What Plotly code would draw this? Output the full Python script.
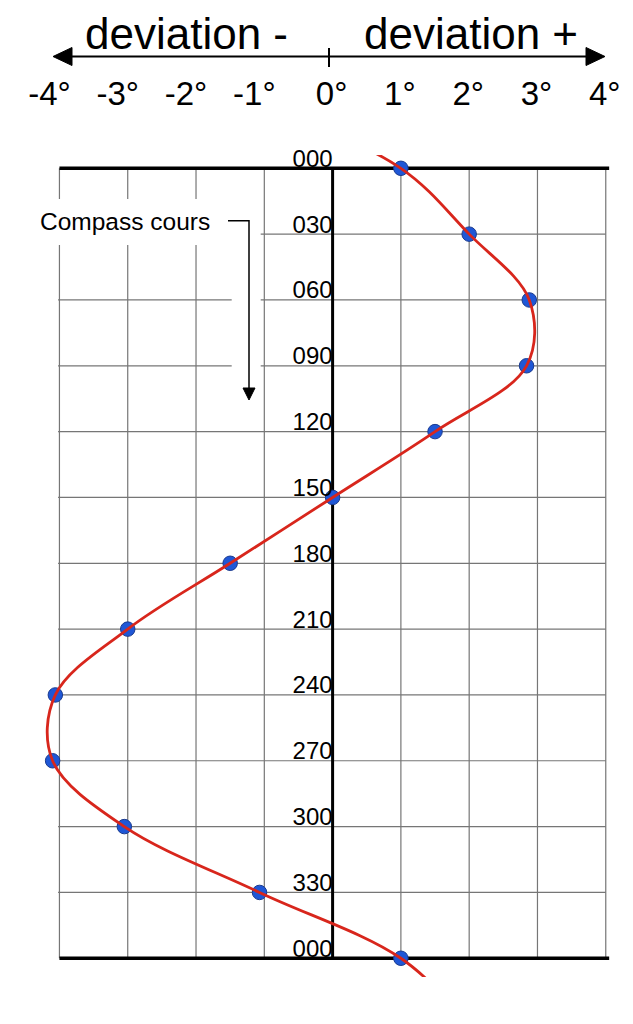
import plotly.graph_objects as go

# ---------------- data ----------------
headings = [0, 30, 60, 90, 120, 150, 180, 210, 240, 270, 300, 330, 360]
deviation = [1.0, 2.0, 2.88, 2.84, 1.5, 0.0, -1.5, -3.0, -4.06, -4.10, -3.05, -1.07, 1.0]
heading_labels = ["000", "030", "060", "090", "120", "150", "180",
                  "210", "240", "270", "300", "330", "000"]
dev_ticks_neg = [-4, -3, -2, -1]
dev_labels_neg = ["-4°", "-3°", "-2°", "-1°"]
dev_ticks_pos = [0, 1, 2, 3, 4]
dev_labels_pos = ["0°", "1°", "2°", "3°", "4°"]
grid_dev = [-4, -3, -2, -1, 1, 2, 3, 4]

# periodic continuation so the smooth curve runs past 000 at both ends
curve_h = [headings[-2] - 360] + headings + [headings[1] + 360]
curve_d = [deviation[-2]] + deviation + [deviation[1]]

# ---------------- geometry ----------------
W, H = 633, 1024
X0, SX = 332.6, 68.29          # px of 0 deg, px per deviation degree
Y0, SY = 168.3, 65.83 / 30.0   # px of heading 000, px per heading degree
TOP_PX, BOT_PX = 155, 977      # plot area (curve clipping) in px


def xd(px):
    return (px - X0) / SX


def yd(px):
    return (px - Y0) / SY


def xp(px):
    return px / W


def yp(px):
    return 1 - px / H


FONT = "Liberation Sans, Arial, Helvetica, sans-serif"
GRID = "#767676"

shapes = []
# thin grid
for d in grid_dev:
    shapes.append(dict(type="line", xref="x", yref="y", x0=d, x1=d, y0=0, y1=360,
                       line=dict(color=GRID, width=1.2), layer="below"))
for h in headings[1:-1]:
    shapes.append(dict(type="line", xref="x", yref="y", x0=-4.02, x1=4.0, y0=h, y1=h,
                       line=dict(color=GRID, width=1.2), layer="below"))
# white knock-outs behind the "Compass cours" label and its arrow
shapes.append(dict(type="rect", xref="x", yref="y", x0=xd(0), x1=xd(260.7),
                   y0=yd(199), y1=yd(245), fillcolor="white", line=dict(width=0), layer="below"))
shapes.append(dict(type="rect", xref="x", yref="y", x0=xd(231.7), x1=xd(260.7),
                   y0=yd(245), y1=yd(405), fillcolor="white", line=dict(width=0), layer="below"))
# zero line and the 000 lines
shapes.append(dict(type="line", xref="x", yref="y", x0=0, x1=0, y0=0, y1=360,
                   line=dict(color="black", width=3), layer="below"))
for h in (0, 360):
    shapes.append(dict(type="line", xref="x", yref="y", x0=-4.0, x1=4.05, y0=h, y1=h,
                       line=dict(color="black", width=3.5), layer="below"))
# bracket arrow for "Compass cours"
shapes.append(dict(type="path", xref="x", yref="y",
                   path=f"M {xd(228)},{yd(220.7)} L {xd(249)},{yd(220.7)} L {xd(249)},{yd(390)}",
                   line=dict(color="black", width=1.5), layer="above"))
shapes.append(dict(type="path", xref="x", yref="y",
                   path=f"M {xd(243)},{yd(388)} L {xd(255)},{yd(388)} L {xd(249)},{yd(400)} Z",
                   fillcolor="black", line=dict(color="black", width=1), layer="above"))
# header double arrow
ya = yp(56.5)
shapes.append(dict(type="line", xref="paper", yref="paper", x0=xp(68), x1=xp(590), y0=ya, y1=ya,
                   line=dict(color="black", width=2)))
shapes.append(dict(type="path", xref="paper", yref="paper",
                   path=f"M {xp(53)},{ya} L {xp(72)},{yp(47.5)} L {xp(72)},{yp(65.5)} Z",
                   fillcolor="black", line=dict(color="black", width=1)))
shapes.append(dict(type="path", xref="paper", yref="paper",
                   path=f"M {xp(605)},{ya} L {xp(586)},{yp(47.5)} L {xp(586)},{yp(65.5)} Z",
                   fillcolor="black", line=dict(color="black", width=1)))
shapes.append(dict(type="line", xref="paper", yref="paper", x0=xp(329), x1=xp(329),
                   y0=yp(48), y1=yp(67), line=dict(color="black", width=2)))

annotations = [
    dict(text="deviation -", xref="paper", yref="paper", x=xp(186.5), y=yp(33),
         xanchor="center", yanchor="middle", showarrow=False,
         font=dict(family=FONT, size=44, color="black")),
    dict(text="deviation +", xref="paper", yref="paper", x=xp(470.5), y=yp(33),
         xanchor="center", yanchor="middle", showarrow=False,
         font=dict(family=FONT, size=44, color="black")),
    dict(text="Compass cours", xref="x", yref="y", x=xd(38), y=yd(221),
         xanchor="left", yanchor="middle", showarrow=False,
         font=dict(family=FONT, size=24.5, color="black")),
]

fig = go.Figure()
fig.add_trace(go.Scatter(x=curve_d, y=curve_h, mode="lines", xaxis="x3", yaxis="y",
                         line=dict(color="#d8261c", width=2.8, shape="spline", smoothing=1),
                         hoverinfo="skip", showlegend=False))
fig.add_trace(go.Scatter(x=deviation, y=headings, mode="markers", xaxis="x2", yaxis="y",
                         marker=dict(size=14.5, color="#1f57d6", line=dict(color="#1a3a8e", width=1)),
                         cliponaxis=False, showlegend=False))

xr = [xd(0), xd(W)]
yr = [yd(BOT_PX), yd(TOP_PX)]
fig.update_layout(
    width=W, height=H, margin=dict(l=0, r=0, t=0, b=0, autoexpand=False),
    paper_bgcolor="white", plot_bgcolor="white",
    font=dict(family=FONT, color="black"),
    showlegend=False,
    xaxis=dict(range=xr, domain=[0, 1], visible=False, fixedrange=True, automargin=False),
    xaxis2=dict(range=xr, overlaying="x", anchor="free", position=yp(112), side="top",
                tickmode="array", tickvals=dev_ticks_pos, ticktext=dev_labels_pos,
                ticks="", showgrid=False, zeroline=False, showline=False, automargin=False,
                tickfont=dict(family=FONT, size=33, color="black"), ticklabelshift=-1),
    xaxis3=dict(range=xr, overlaying="x", anchor="free", position=yp(112), side="top",
                tickmode="array", tickvals=dev_ticks_neg, ticktext=dev_labels_neg,
                ticks="", showgrid=False, zeroline=False, showline=False, automargin=False,
                tickfont=dict(family=FONT, size=33, color="black"), ticklabelshift=-10),
    yaxis=dict(range=yr, domain=[yp(BOT_PX), yp(TOP_PX)], anchor="free", position=xp(X0),
               side="left", tickmode="array", tickvals=headings, ticktext=heading_labels,
               ticks="", showgrid=False, zeroline=False, showline=False, automargin=False,
               tickfont=dict(family=FONT, size=24, color="black"),
               ticklabelshift=10, ticklabelstandoff=0),
    shapes=shapes, annotations=annotations,
)

fig.write_html("out.html", config={"displayModeBar": False},
               post_script="document.body.style.margin='0';")
